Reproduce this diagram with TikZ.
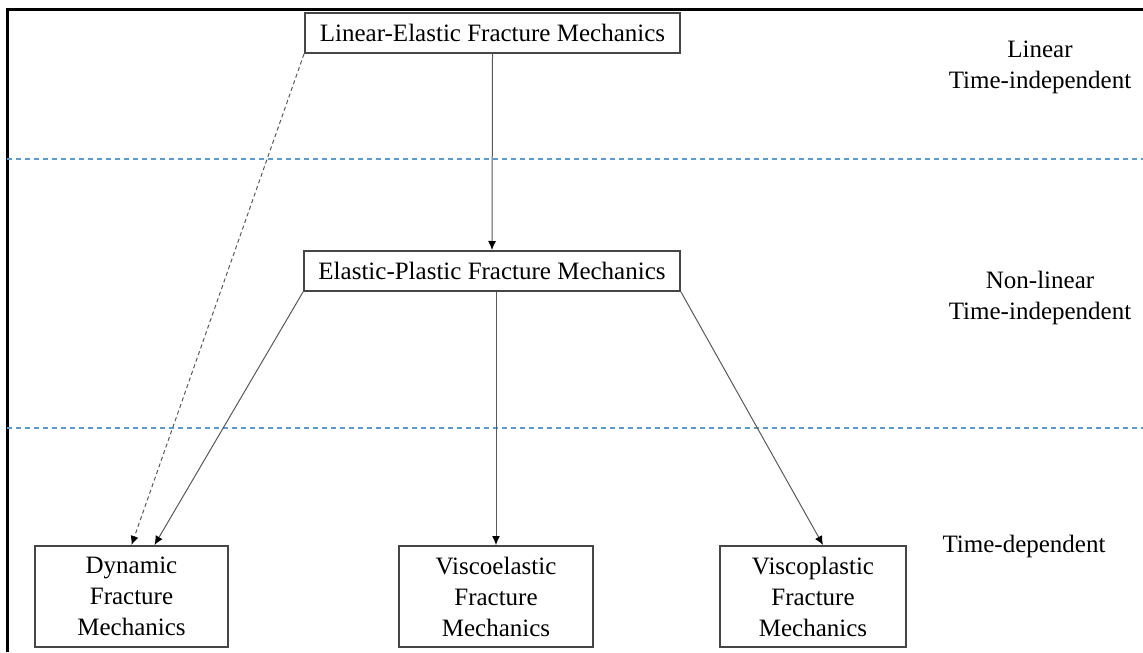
\documentclass[tikz,border=0pt]{standalone}
\usepackage{fontspec}
\setmainfont{Liberation Serif}
\usetikzlibrary{arrows.meta}
\definecolor{sepblue}{RGB}{91,155,213}
\definecolor{boxgray}{RGB}{70,70,70}
\begin{document}
\begin{tikzpicture}[x=0.5pt,y=-0.5pt,
  every node/.style={font=\fontsize{12.5}{15.5}\selectfont},
  fbox/.style={draw=boxgray,line width=1pt,align=center,inner sep=0pt},
  conn/.style={draw=gray!70!black,line width=0.5pt,-{Latex[length=4.5pt,width=4pt,black]}},
  sepline/.style={draw=sepblue,line width=0.6pt,dash pattern=on 2.5pt off 2pt},
  lbl/.style={align=center}]

\useasboundingbox (0,0) rectangle (1143,652);
\draw[line width=1.5pt] (7,652) -- (7,10) -- (1143,10);

\node (lefm) at (492.5,33) [fbox,minimum width=187.5pt,minimum height=20pt] {Linear-Elastic Fracture Mechanics};
\node (epfm) at (492,271) [fbox,minimum width=188pt,minimum height=20pt] {Elastic-Plastic Fracture Mechanics};
\node (dyn) at (131.5,596.5) [fbox,minimum width=96.5pt,minimum height=50.5pt] {Dynamic\\Fracture\\Mechanics};
\node (visel) at (496,596.5) [fbox,minimum width=97pt,minimum height=50.5pt] {Viscoelastic\\Fracture\\Mechanics};
\node (vispl) at (813,596.5) [fbox,minimum width=93pt,minimum height=50.5pt] {Viscoplastic\\Fracture\\Mechanics};

\node (lin) at (1040,67) [lbl] {Linear\\Time-independent};
\node (nonlin) at (1040,298) [lbl] {Non-linear\\Time-independent};
\node (tdep) at (1024,546) [lbl] {Time-dependent};

\draw[sepline] (7,159) -- (1143,159);
\draw[sepline] (7,428) -- (1143,428);

\draw[conn] (lefm.south) -- (epfm.north);
\draw[conn,dash pattern=on 2pt off 1.5pt] (lefm.south west) -- (dyn.north);
\draw[conn] (epfm.south west) -- ([xshift=11.5pt]dyn.north);
\draw[conn] (visel.north |- epfm.south) -- (visel.north);
\draw[conn] (epfm.south east) -- ([xshift=5pt]vispl.north);
\end{tikzpicture}
\end{document}
